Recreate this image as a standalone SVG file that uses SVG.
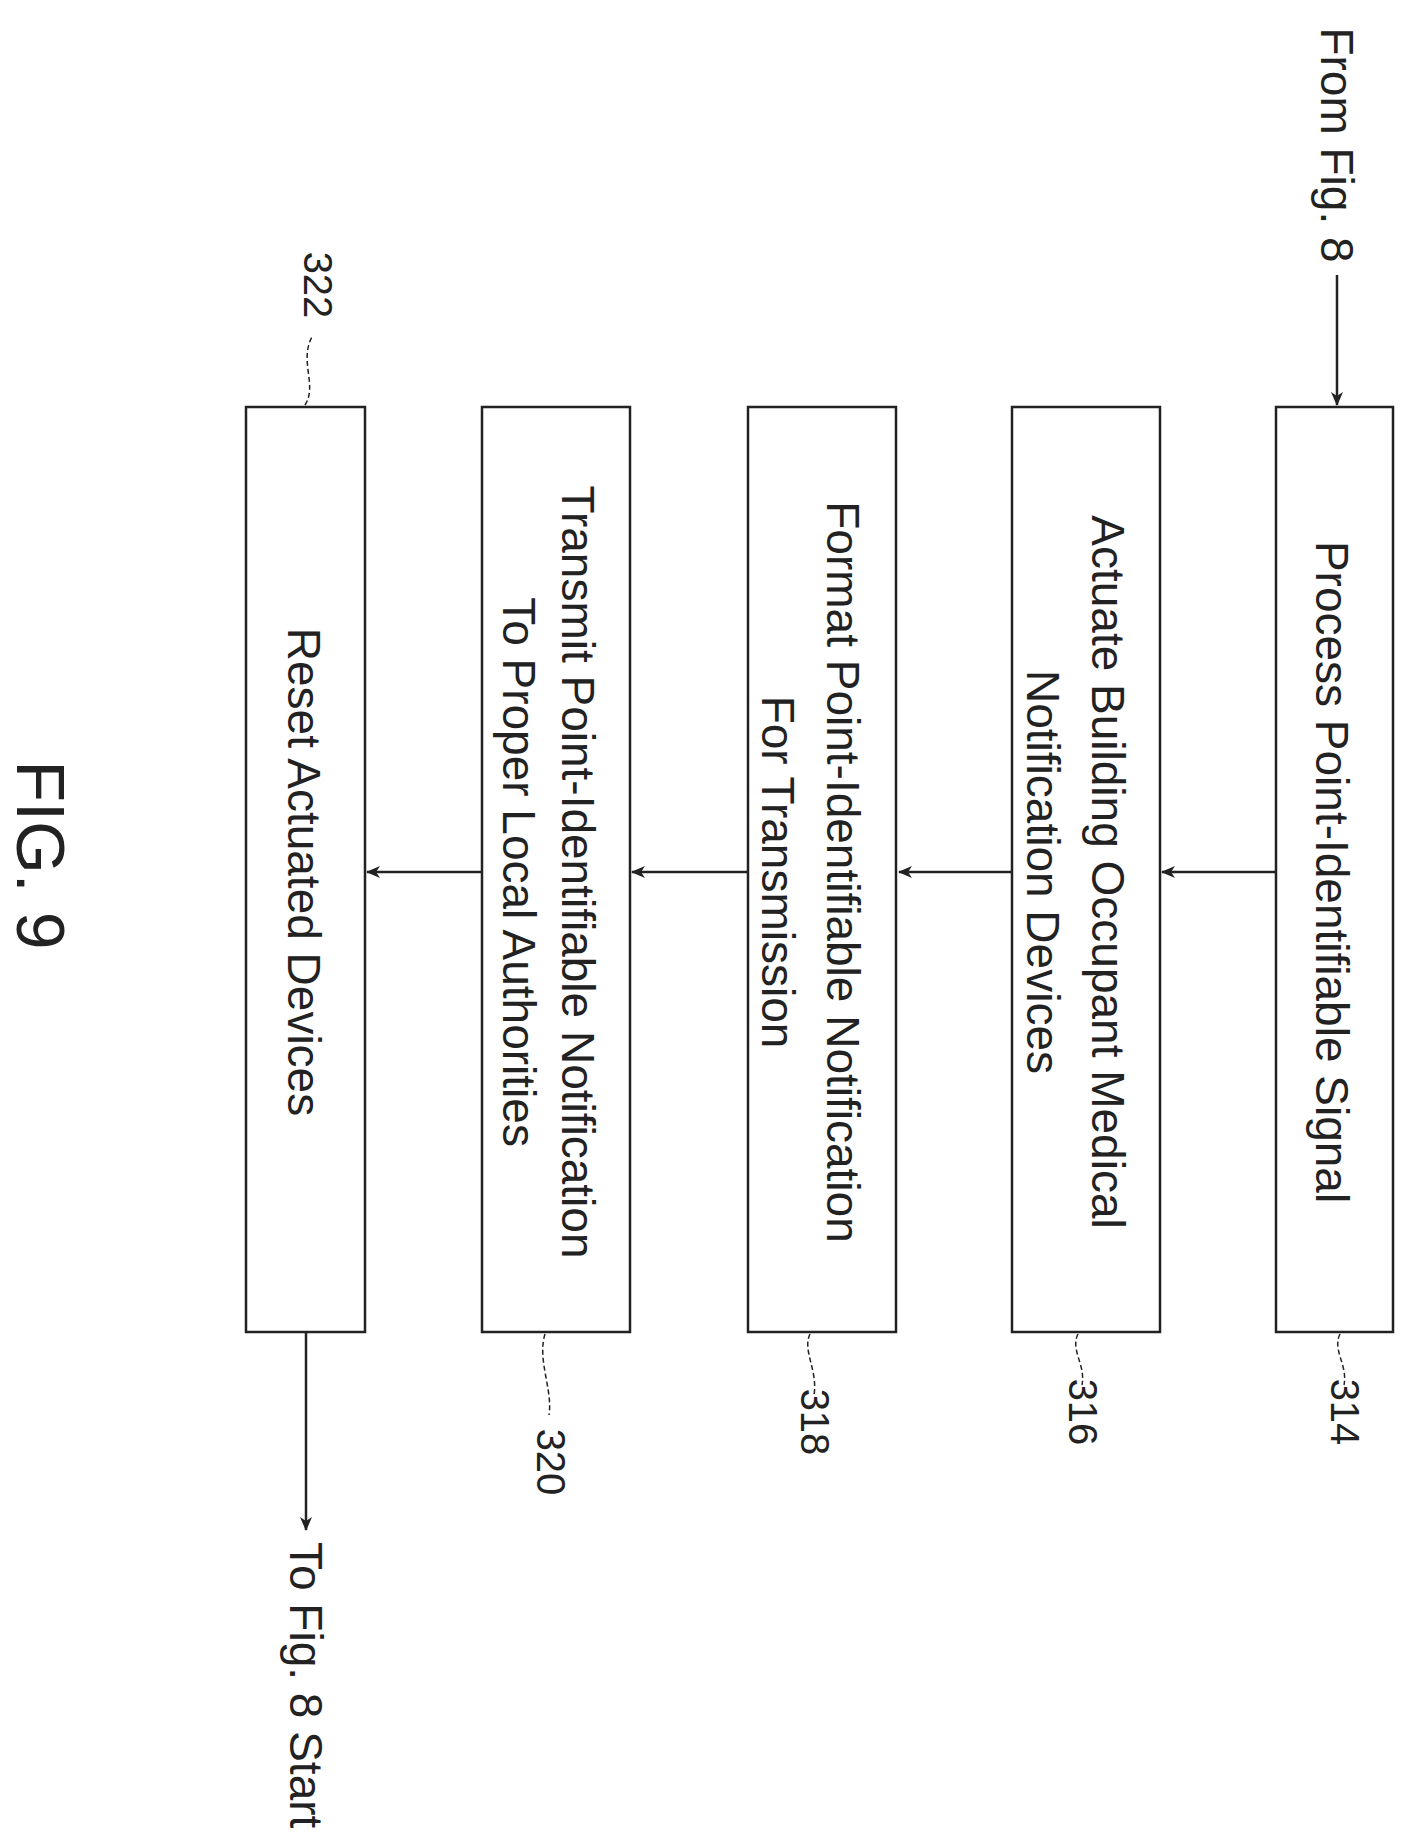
<svg xmlns="http://www.w3.org/2000/svg" width="1415" height="1847" viewBox="0 0 1415 1847">
<defs>
<style>
.b{fill:#fff;stroke:#222;stroke-width:2.5}
.t{font-family:"Liberation Sans",Arial,sans-serif;font-size:46px;fill:#222;text-anchor:middle}
.n{font-family:"Liberation Sans",Arial,sans-serif;font-size:40px;fill:#222;text-anchor:middle}
.c{stroke:#222;stroke-width:2.5;fill:none}
.l{stroke:#222;stroke-width:1.5;fill:none;stroke-dasharray:5 3}
</style>
<marker id="a" markerWidth="14" markerHeight="12" refX="13" refY="6" orient="auto" markerUnits="userSpaceOnUse"><path d="M0,0 L14,6 L0,12 L4,6 Z" fill="#222"/></marker>
</defs>
<rect width="1415" height="1847" fill="#fff"/>
<g id="connectors">
<line class="c" x1="1337" y1="275" x2="1337" y2="405" marker-end="url(#a)"/>
<line class="c" x1="1276" y1="872" x2="1162" y2="872" marker-end="url(#a)"/>
<line class="c" x1="1012" y1="872" x2="899" y2="872" marker-end="url(#a)"/>
<line class="c" x1="748" y1="872" x2="632" y2="872" marker-end="url(#a)"/>
<line class="c" x1="482" y1="872" x2="367" y2="872" marker-end="url(#a)"/>
<line class="c" x1="306" y1="1332" x2="306" y2="1530" marker-end="url(#a)"/>
<path class="l" d="M1340,1334 C1332,1350 1348,1365 1344,1385"/>
<path class="l" d="M1078,1334 C1070,1350 1086,1365 1082,1385"/>
<path class="l" d="M810,1334 C802,1350 818,1370 814,1395"/>
<path class="l" d="M545,1334 C537,1360 553,1390 549,1415"/>
<path class="l" d="M305,405 C318,385 298,360 313,335"/>
</g>
<g id="n314"><rect class="b" x="1276" y="407" width="117" height="925"/>
<text class="t" transform="translate(1316,872) rotate(90)">Process Point-Identifiable Signal</text>
<text class="n" transform="translate(1331,1412) rotate(90)">314</text></g>
<g id="n316"><rect class="b" x="1012" y="407" width="148" height="925"/>
<text class="t" transform="translate(1092,872) rotate(90)">Actuate Building Occupant Medical</text>
<text class="t" transform="translate(1027,872) rotate(90)">Notification Devices</text>
<text class="n" transform="translate(1069,1412) rotate(90)">316</text></g>
<g id="n318"><rect class="b" x="748" y="407" width="148" height="925"/>
<text class="t" transform="translate(827,872) rotate(90)">Format Point-Identifiable Notification</text>
<text class="t" transform="translate(762,872) rotate(90)">For Transmission</text>
<text class="n" transform="translate(801,1422) rotate(90)">318</text></g>
<g id="n320"><rect class="b" x="482" y="407" width="148" height="925"/>
<text class="t" transform="translate(562,872) rotate(90)">Transmit Point-Identifiable Notification</text>
<text class="t" transform="translate(503,872) rotate(90)">To Proper Local Authorities</text>
<text class="n" transform="translate(537,1462) rotate(90)">320</text></g>
<g id="n322"><rect class="b" x="246" y="407" width="119" height="925"/>
<text class="t" transform="translate(288,872) rotate(90)">Reset Actuated Devices</text>
<text class="n" transform="translate(304,285) rotate(90)">322</text></g>
<g id="labels">
<text class="t" transform="translate(1321,145) rotate(90)">From Fig. 8</text>
<text class="t" style="text-anchor:start" transform="translate(290,1542) rotate(90)">To Fig. 8 Start</text>
<text class="t" style="font-size:68px" transform="translate(17,855) rotate(90)">FIG. 9</text>
</g>
</svg>
